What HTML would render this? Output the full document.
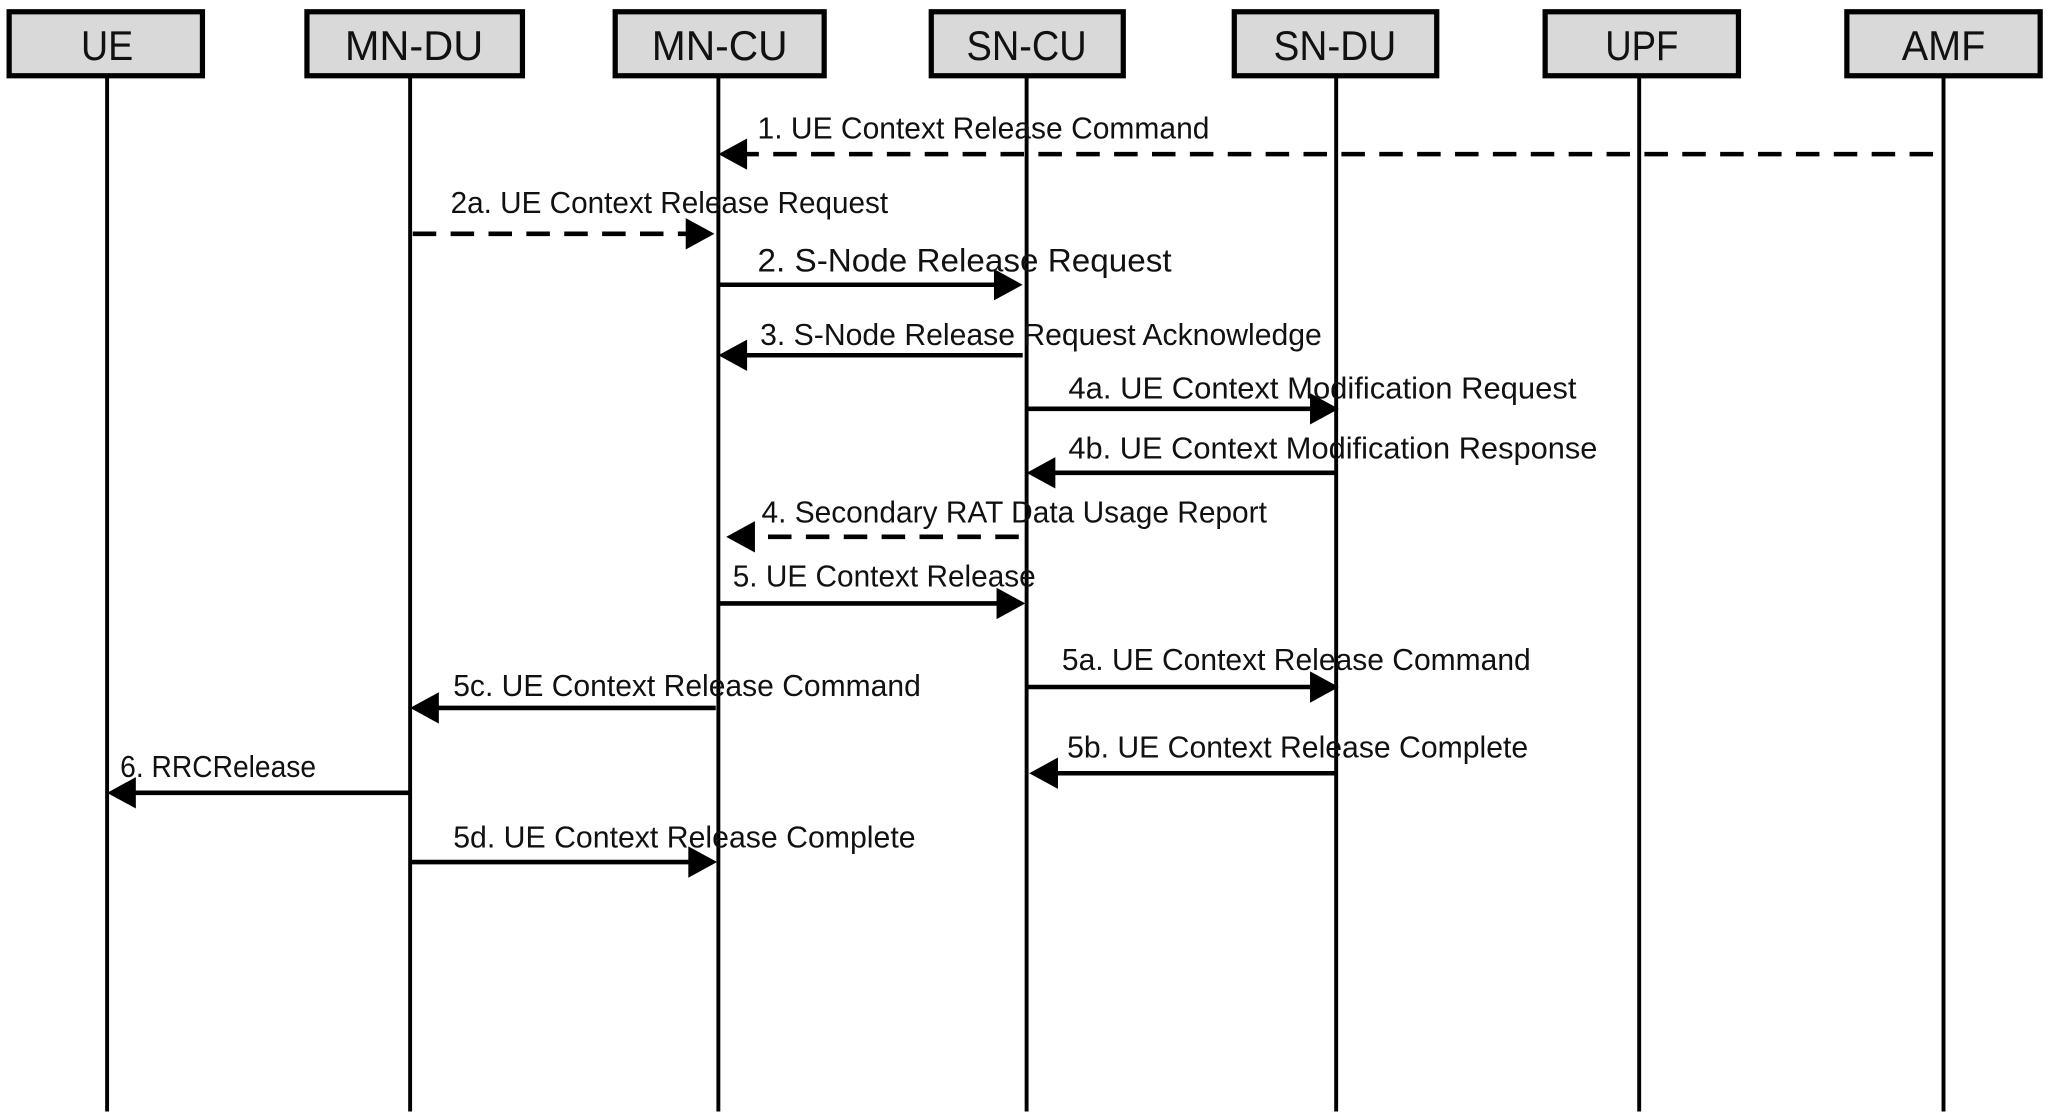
<!DOCTYPE html>
<html><head><meta charset="utf-8"><style>html,body{margin:0;padding:0;background:#fff}svg{display:block}</style></head>
<body>
<svg width="2048" height="1120" viewBox="0 0 1568 857.5" preserveAspectRatio="none" xmlns="http://www.w3.org/2000/svg" font-family="Liberation Sans, sans-serif">
<g stroke="#000" stroke-width="3">
<line x1="82" y1="58" x2="82" y2="851"/>
<line x1="314" y1="58" x2="314" y2="851"/>
<line x1="550" y1="58" x2="550" y2="851"/>
<line x1="786" y1="58" x2="786" y2="851"/>
<line x1="1023" y1="58" x2="1023" y2="851"/>
<line x1="1255" y1="58" x2="1255" y2="851"/>
<line x1="1488" y1="58" x2="1488" y2="851"/>
</g>
<g fill="#d9d9d9" stroke="#000" stroke-width="4">
<rect x="7" y="9" width="148" height="49"/>
<rect x="235" y="9" width="165" height="49"/>
<rect x="471" y="9" width="160" height="49"/>
<rect x="713" y="9" width="147" height="49"/>
<rect x="945" y="9" width="155" height="49"/>
<rect x="1183" y="9" width="148" height="49"/>
<rect x="1414" y="9" width="148" height="49"/>
</g>
<g font-size="32" text-anchor="middle" fill="#111">
<text x="82" y="46" textLength="40" lengthAdjust="spacingAndGlyphs">UE</text>
<text x="317" y="46" textLength="106" lengthAdjust="spacingAndGlyphs">MN-DU</text>
<text x="551" y="46" textLength="104" lengthAdjust="spacingAndGlyphs">MN-CU</text>
<text x="786" y="46" textLength="92" lengthAdjust="spacingAndGlyphs">SN-CU</text>
<text x="1022" y="46" textLength="94" lengthAdjust="spacingAndGlyphs">SN-DU</text>
<text x="1257" y="46" textLength="56" lengthAdjust="spacingAndGlyphs">UPF</text>
<text x="1488" y="46" textLength="64" lengthAdjust="spacingAndGlyphs">AMF</text>
</g>
<g stroke="#000" stroke-width="3.5">
<line x1="1480" y1="118" x2="570" y2="118" stroke-dasharray="18,11"/>
<line x1="316" y1="179" x2="528" y2="179" stroke-dasharray="18,11"/>
<line x1="550" y1="218" x2="765" y2="218"/>
<line x1="783" y1="272" x2="570" y2="272"/>
<line x1="786" y1="313" x2="1003" y2="313"/>
<line x1="1023" y1="362" x2="806" y2="362"/>
<line x1="780" y1="411" x2="576" y2="411" stroke-dasharray="18,11"/>
<line x1="550" y1="462" x2="765" y2="462"/>
<line x1="786" y1="526" x2="1003" y2="526"/>
<line x1="548" y1="542" x2="334" y2="542"/>
<line x1="1023" y1="592" x2="808" y2="592"/>
<line x1="314" y1="607" x2="102" y2="607"/>
<line x1="314" y1="660" x2="528" y2="660"/>
</g>
<g fill="#000">
<polygon points="550,118 572,106 572,130"/>
<polygon points="547,179 525,167 525,191"/>
<polygon points="783,218 761,206 761,230"/>
<polygon points="550,272 572,260 572,284"/>
<polygon points="1025,313 1003,301 1003,325"/>
<polygon points="786,362 808,350 808,374"/>
<polygon points="556,411 578,399 578,423"/>
<polygon points="785,462 763,450 763,474"/>
<polygon points="1025,526 1003,514 1003,538"/>
<polygon points="314,542 336,530 336,554"/>
<polygon points="788,592 810,580 810,604"/>
<polygon points="82,607 104,595 104,619"/>
<polygon points="549,660 527,648 527,672"/>
</g>
<g font-size="23.5" fill="#111">
<text x="580" y="106" textLength="346" lengthAdjust="spacingAndGlyphs">1. UE Context Release Command</text>
<text x="345" y="163" textLength="335" lengthAdjust="spacingAndGlyphs">2a. UE Context Release Request</text>
<text x="580" y="208" font-size="25" textLength="317" lengthAdjust="spacingAndGlyphs">2. S-Node Release Request</text>
<text x="582" y="264" textLength="430" lengthAdjust="spacingAndGlyphs">3. S-Node Release Request Acknowledge</text>
<text x="818" y="305" textLength="389" lengthAdjust="spacingAndGlyphs">4a. UE Context Modification Request</text>
<text x="818" y="351" textLength="405" lengthAdjust="spacingAndGlyphs">4b. UE Context Modification Response</text>
<text x="583" y="400" textLength="387" lengthAdjust="spacingAndGlyphs">4. Secondary RAT Data Usage Report</text>
<text x="561" y="449" textLength="232" lengthAdjust="spacingAndGlyphs">5. UE Context Release</text>
<text x="813" y="513" textLength="359" lengthAdjust="spacingAndGlyphs">5a. UE Context Release Command</text>
<text x="347" y="533" textLength="358" lengthAdjust="spacingAndGlyphs">5c. UE Context Release Command</text>
<text x="817" y="580" textLength="353" lengthAdjust="spacingAndGlyphs">5b. UE Context Release Complete</text>
<text x="92" y="595" textLength="150" lengthAdjust="spacingAndGlyphs">6. RRCRelease</text>
<text x="347" y="649" textLength="354" lengthAdjust="spacingAndGlyphs">5d. UE Context Release Complete</text>
</g>
</svg>
</body></html>
